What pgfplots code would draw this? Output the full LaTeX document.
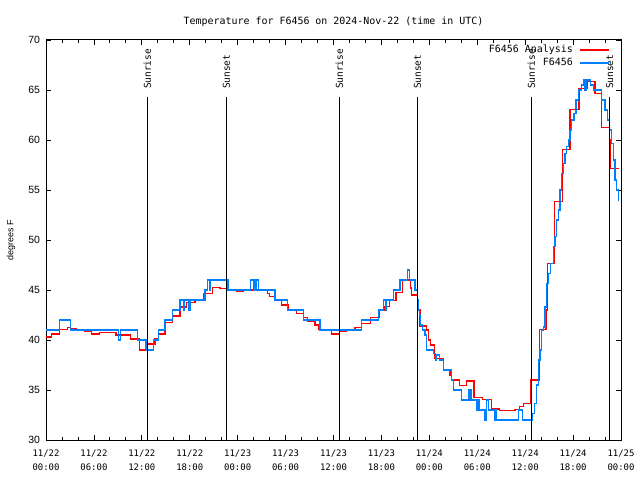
\documentclass[border=0pt]{standalone}
\usepackage{fontspec}
\usepackage{pgfplots}
\pgfplotsset{compat=1.18}
\setmainfont{DejaVu Sans Mono}
\newfontfamily\sansf{Liberation Sans}
\definecolor{gred}{RGB}{255,0,0}
\definecolor{gblue}{RGB}{0,128,255}
\begin{document}
\begin{tikzpicture}
\useasboundingbox (-46bp,-40bp) rectangle (594bp,440bp);
\begin{axis}[
  scale only axis, width=575bp, height=400bp,
  xmin=0, xmax=72, ymin=30, ymax=70,
  xtick={0,6,...,72}, minor x tick num=2,
  xticklabels={{11/22\\00:00},{11/22\\06:00},{11/22\\12:00},{11/22\\18:00},{11/23\\00:00},{11/23\\06:00},{11/23\\12:00},{11/23\\18:00},{11/24\\00:00},{11/24\\06:00},{11/24\\12:00},{11/24\\18:00},{11/25\\00:00}},
  xticklabel style={align=center, font=\fontsize{9}{14.5}\selectfont, yshift=-6bp},
  ytick={30,35,...,70},
  yticklabel style={font=\sansf\fontsize{10.5}{12}\selectfont, xshift=-2.5bp},
  /pgf/number format/assume math mode=true,
  tick align=inside, major tick length=5bp, minor tick length=3bp,
  axis line style={line width=1bp},
  every tick/.style={black, line width=0.8bp},
  ylabel={degrees F},
  ylabel style={font=\sansf\fontsize{9}{10}\selectfont, at={(axis description cs:-0.0609,0.5)}, anchor=center},
  title={Temperature for F6456 on 2024-Nov-22 (time in UTC)},
  title style={font=\fontsize{10}{12}\selectfont, at={(axis description cs:0.5,1)}, anchor=base, yshift=10bp},
  legend cell align=right, legend plot pos=right,
  legend image code/.code={\draw[#1] (0bp,0bp) -- (29bp,0bp);},
  legend style={at={(axis description cs:1,1)}, anchor=north east, xshift=-11.5bp, yshift=-5.5bp, draw=none, fill=none, font=\fontsize{10}{12}\selectfont, row sep=3.6bp, column sep=6bp, inner sep=0pt, nodes={inner sep=0pt, text height=7bp, text depth=2bp}},
]
\addplot[gred, line width=1.5bp, const plot] coordinates {
(0,40.3)(0.71,40.6)(1.67,41.07)(2.67,41.27)(3.09,41.13)(3.76,41.07)(4.80,40.87)(5.72,40.6)(6.68,40.77)(8.76,40.5)(10.60,40.1)(11.69,39.0)(12.69,39.6)(13.65,40.1)(14.06,40.6)(14.90,41.77)(15.82,42.4)(16.78,43.3)(17.61,43.77)(18.66,44.07)(19.70,44.67)(20.83,45.27)(21.79,45.13)(22.62,45.0)(22.96,44.93)(23.87,44.83)(24.71,45.0)(27.71,44.67)(27.97,44.33)(28.67,43.93)(29.51,43.5)(30.35,43.07)(31.39,42.67)(32.22,42.23)(32.77,41.83)(33.69,41.5)(34.10,41.07)(35.77,40.6)(36.73,40.9)(37.65,41.0)(38.69,41.23)(39.53,41.67)(40.65,42.23)(41.70,43.0)(42.32,43.33)(42.99,43.93)(43.83,44.73)(44.66,46.0)(45.66,45.2)(45.79,44.5)(46.50,44.0)(46.62,43.0)(46.83,41.4)(47.67,41.0)(47.88,40.0)(48.17,39.5)(48.63,38.17)(49.75,37.0)(50.59,36.5)(50.80,36.0)(51.76,35.47)(52.67,35.9)(53.59,34.23)(54.67,34.07)(55.80,33.1)(56.76,32.93)(58.72,33.07)(59.27,33.33)(59.77,33.67)(60.69,36.0)(61.78,41.07)(62.61,43.0)(62.78,47.67)(63.65,53.83)(64.65,59.07)(65.61,63.07)(66.74,65.17)(67.78,65.83)(68.74,64.67)(69.58,61.27)(70.54,60.0)(70.71,57.17)(71.75,57.17)
};
\addlegendentry{F6456 Analysis}
\addplot[gblue, line width=1.5bp, const plot] coordinates {
(0,41)(1.67,42)(3.09,41)(9.06,40)(9.31,41)(11.43,40)(12.52,39)(13.44,40)(14.06,41)(14.90,42)(15.82,43)(16.78,44)(17.2,43)(17.3,44)(17.9,43)(18.0,44)(19.91,45)(20.20,46)(20.45,45)(20.6,46)(22.8,45)(25.63,46)(26.05,45)(26.30,46)(26.63,45)(28.67,44)(30.22,43)(32.22,42)(34.31,41)(39.53,42)(41.61,43)(42.24,44)(42.5,43)(42.6,44)(43.49,45)(44.33,46)(45.29,47)(45.50,46)(46.21,45)(46.50,44)(46.6,43)(46.75,42.5)(46.92,41.5)(47.17,41)(47.46,40.5)(47.67,39)(48.50,38.67)(48.8,38)(48.92,38.5)(49.25,38)(49.75,37)(50.80,36)(51.0,35)(52.05,34)(52.88,35)(53.0,34)(53.1,35)(53.30,34)(53.93,33)(54.1,34)(54.2,33)(54.97,32)(55.18,34)(55.39,33)(56.22,32)(56.35,33)(56.43,32)(59.15,33)(59.69,32)(60.94,32.67)(61.19,33.67)(61.44,35.5)(61.65,38)(61.86,39)(62.07,41)(62.28,41.3)(62.49,43.3)(62.69,45.67)(62.90,46.67)(63.20,47.67)(63.53,49.33)(63.74,50.33)(63.95,52)(64.15,53)(64.36,55)(64.57,56.67)(64.78,57.67)(64.99,58.67)(65.20,59.33)(65.41,60)(65.61,61)(65.82,62)(66.12,62.67)(66.37,64)(66.66,65)(67.08,65.5)(67.37,66)(67.5,65)(67.6,66)(68.21,65.5)(68.54,65)(69.58,64)(70.0,63)(70.29,62)(70.54,61)(70.83,59.67)(71.04,58)(71.25,56)(71.45,55)(71.67,54)(71.75,54)
};
\addlegendentry{F6456}
\addplot[black, line width=1.2bp, forget plot] coordinates {(12.7,30) (12.7,64.3)};
\addplot[black, line width=1.2bp, forget plot] coordinates {(22.6,30) (22.6,64.3)};
\addplot[black, line width=1.2bp, forget plot] coordinates {(36.73,30) (36.73,64.3)};
\addplot[black, line width=1.2bp, forget plot] coordinates {(46.5,30) (46.5,64.3)};
\addplot[black, line width=1.2bp, forget plot] coordinates {(60.78,30) (60.78,64.3)};
\addplot[black, line width=1.2bp, forget plot] coordinates {(70.58,30) (70.58,64.3)};
\node[rotate=90, anchor=west, font=\fontsize{9.5}{12}\selectfont] at (axis cs:12.7,64.75) {Sunrise};
\node[rotate=90, anchor=west, font=\fontsize{9.5}{12}\selectfont] at (axis cs:22.6,64.75) {Sunset};
\node[rotate=90, anchor=west, font=\fontsize{9.5}{12}\selectfont] at (axis cs:36.73,64.75) {Sunrise};
\node[rotate=90, anchor=west, font=\fontsize{9.5}{12}\selectfont] at (axis cs:46.5,64.75) {Sunset};
\node[rotate=90, anchor=west, font=\fontsize{9.5}{12}\selectfont] at (axis cs:60.78,64.75) {Sunrise};
\node[rotate=90, anchor=west, font=\fontsize{9.5}{12}\selectfont] at (axis cs:70.58,64.75) {Sunset};
\end{axis}
\end{tikzpicture}
\end{document}
